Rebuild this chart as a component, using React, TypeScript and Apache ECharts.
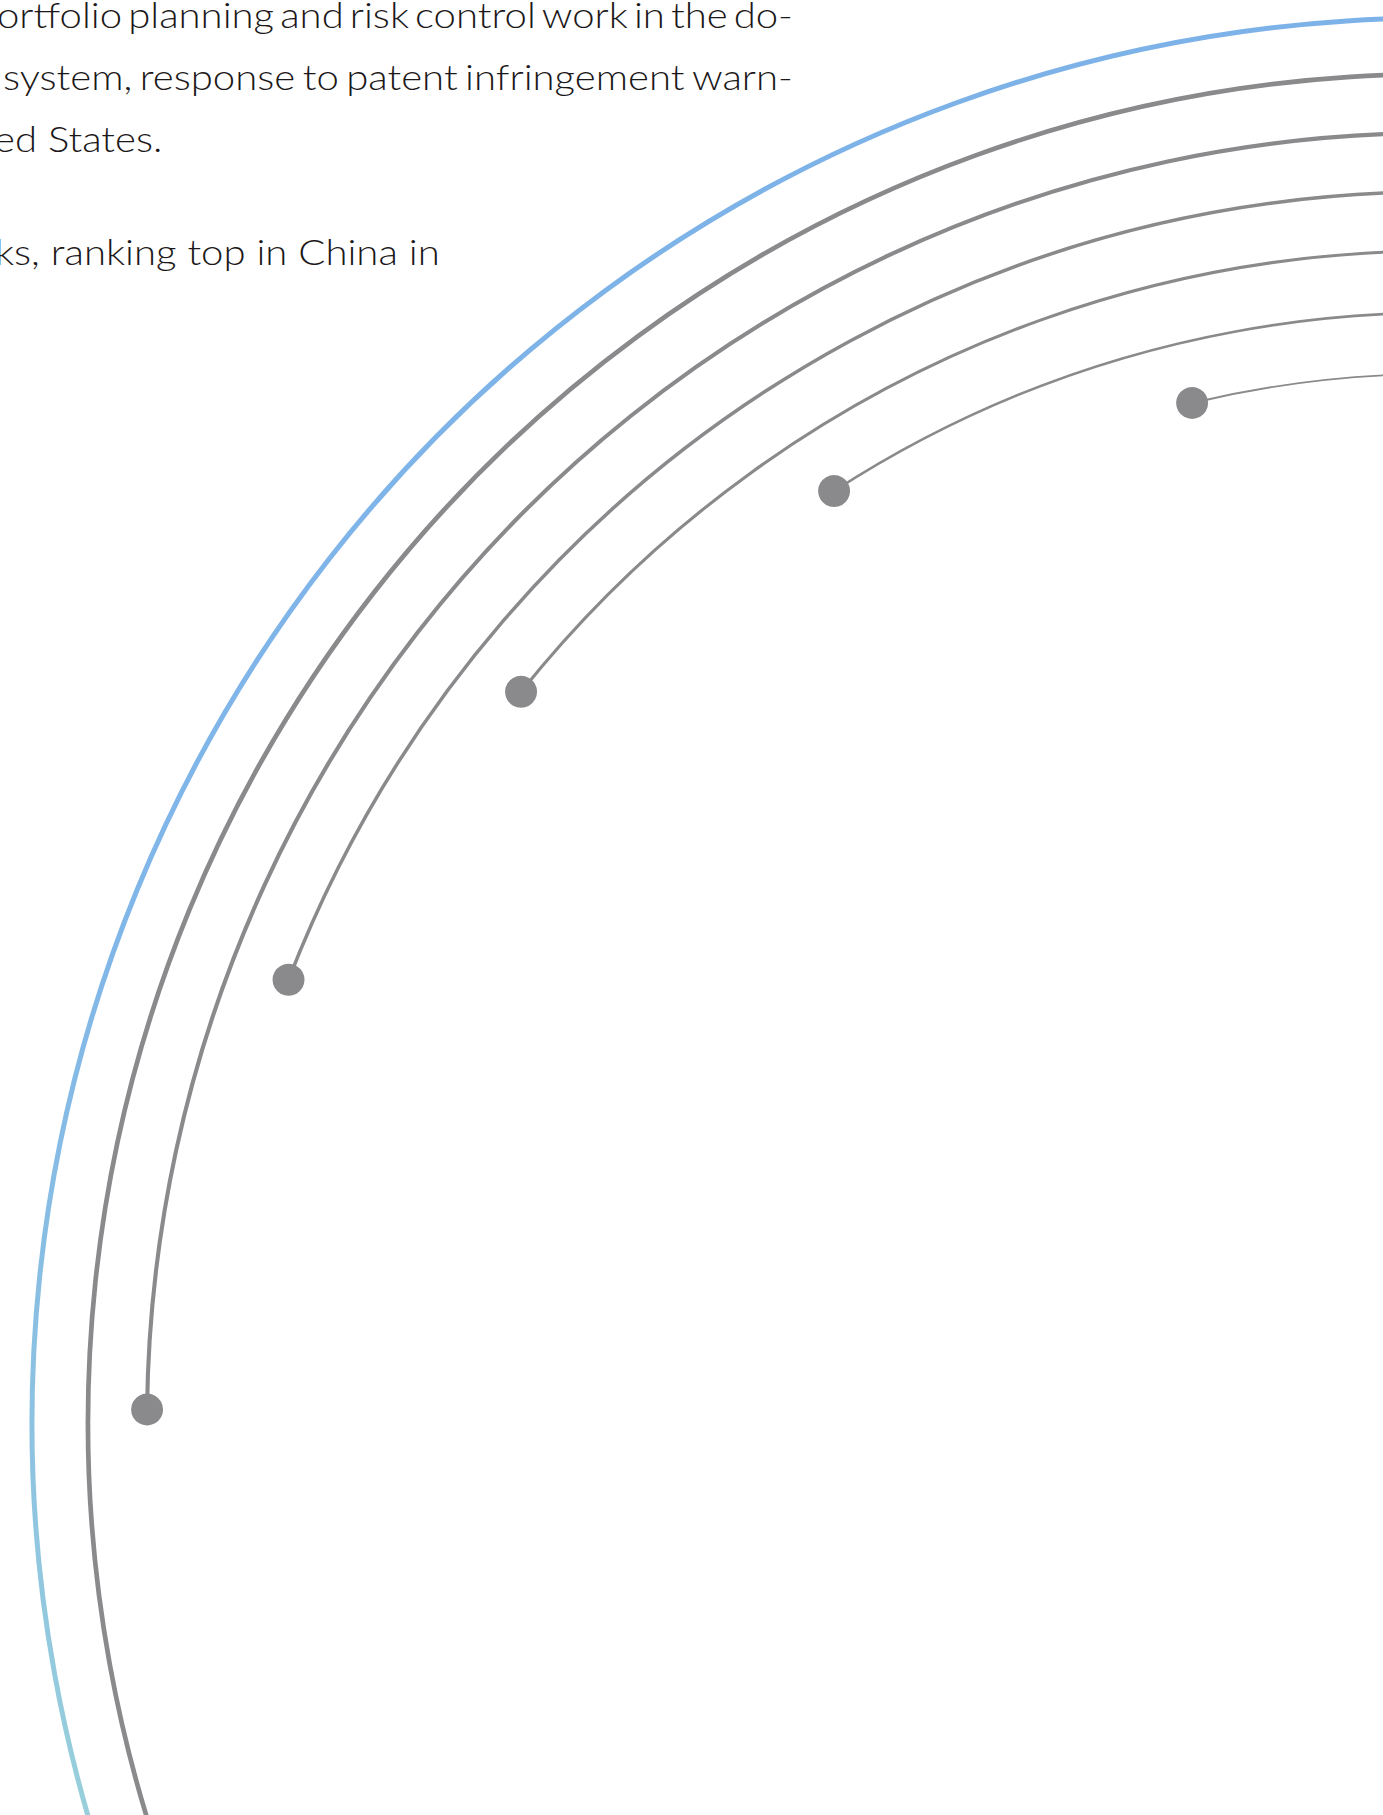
import React, { useEffect, useRef } from 'react';
import * as echarts from 'echarts';

// ---------- data ----------
// Text lines of the (cropped) paragraph
const textLines: string[] = [
  'ortfolio planning and risk control work in the do-',
  'system, response to patent infringement warn-',
  'ed States.',
  'ks, ranking top in China in',
];
const textJustified: boolean[] = [true, true, false, false];

// Concentric rings: radius (px from the common centre) and angular extent
// (degrees, counter-clockwise from east)
const ringNames: string[] = ['blue', 'g1', 'g2', 'g3', 'g4', 'g5', 'g6'];
const ringRadius: number[] = [1405, 1349, 1290, 1231, 1172, 1110, 1049];
const ringFrom: number[] = [78, 78, 78, 78, 78, 78, 78];
const ringTo: number[] = [206, 206, 179.4, 158.9, 141.4, 122.9, 103.5];

// Dots that terminate the inner rings: [radius, angle]
const dotRadius: number[] = [1290, 1231, 1172, 1110, 1049];
const dotAngle: number[] = [179.4, 158.9, 141.4, 122.9, 103.5];

// ---------- layout / style ----------
const W = 1383;
const H = 1815;
const CENTER: [number, number] = [1437, 1423];
const MAX_R = 1405;
const RING_WIDTH = [5, 4.7, 4.1, 3.5, 3.1, 2.6, 1.9];
const GRAY = '#8a8a8c';
const TEXT_COLOR = '#1c1819';
const FONT_SIZE = 35;
const FONT_WEIGHT = 300;
const FONT_FAMILY = 'Lato, "Noto Sans", sans-serif';
const LINE_LEFT = [-3, 3, -6, -5];
const LINE_RIGHT = [793, 793, 150, 440];
const LINE_BASELINE = [28, 90, 152, 265];
const BASELINE_TO_MIDDLE = 13;

function buildTextElements(): any[] {
  const canvas = document.createElement('canvas');
  const ctx = canvas.getContext('2d') as CanvasRenderingContext2D;
  ctx.font = `${FONT_WEIGHT} ${FONT_SIZE}px ${FONT_FAMILY}`;
  // horizontal scale derived from the last (non-justified) line
  const ref = 3;
  const sx = (LINE_RIGHT[ref] - LINE_LEFT[ref]) / ctx.measureText(textLines[ref]).width;
  const els: any[] = [];
  const mk = (text: string, x: number, i: number) => ({
    type: 'text',
    x,
    y: LINE_BASELINE[i] - BASELINE_TO_MIDDLE,
    scaleX: sx,
    silent: true,
    style: {
      text,
      fill: TEXT_COLOR,
      fontSize: FONT_SIZE,
      fontWeight: FONT_WEIGHT,
      fontFamily: FONT_FAMILY,
      align: 'left',
      verticalAlign: 'middle',
    },
  });
  textLines.forEach((line, i) => {
    if (textJustified[i]) {
      const words = line.split(' ');
      const widths = words.map((w) => ctx.measureText(w).width * sx);
      const total = widths.reduce((a, b) => a + b, 0);
      const gap = (LINE_RIGHT[i] - LINE_LEFT[i] - total) / (words.length - 1);
      let x = LINE_LEFT[i];
      words.forEach((w, k) => {
        els.push(mk(w, x, i));
        x += widths[k] + gap;
      });
    } else {
      els.push(mk(line, LINE_LEFT[i], i));
    }
  });
  return els;
}

export default function App() {
  const ref = useRef<HTMLDivElement>(null);
  useEffect(() => {
    document.body.style.margin = '0';
    document.body.style.overflow = 'hidden';
    if (!ref.current) return;
    const chart = echarts.init(ref.current, null, { renderer: 'svg' });

    const blue = new echarts.graphic.LinearGradient(
      0, 0, 0, H,
      [
        { offset: 0, color: '#7db2e8' },
        { offset: 0.5, color: '#80b6e8' },
        { offset: 0.75, color: '#8bc0e2' },
        { offset: 1, color: '#98cfdb' },
      ],
      true
    );

    chart.setOption({
      animation: false,
      backgroundColor: '#ffffff',
      polar: { center: CENTER, radius: MAX_R },
      radiusAxis: { type: 'value', min: 0, max: MAX_R, show: false },
      angleAxis: {
        type: 'value', min: 0, max: 360, startAngle: 0, clockwise: false, show: false,
      },
      graphic: { elements: buildTextElements() },
      series: [
        {
          type: 'custom',
          name: 'rings',
          coordinateSystem: 'polar',
          silent: true,
          clip: false,
          data: ringRadius.map((r, i) => ({ name: ringNames[i], value: [r, ringFrom[i], ringTo[i]] })),
          renderItem: (params: any, api: any) => {
            const r = api.value(0);
            const a0 = api.value(1);
            const a1 = api.value(2);
            const c = api.coord([0, 0]);
            const p0 = api.coord([r, a0]);
            const p1 = api.coord([r, a1]);
            const rp = Math.hypot(p0[0] - c[0], p0[1] - c[1]);
            const s0 = Math.atan2(p0[1] - c[1], p0[0] - c[0]);
            const s1 = Math.atan2(p1[1] - c[1], p1[0] - c[0]);
            let start = s1;
            let end = s0;
            while (end < start) end += Math.PI * 2;
            const i = params.dataIndex;
            return {
              type: 'arc',
              shape: { cx: c[0], cy: c[1], r: rp, startAngle: start, endAngle: end, clockwise: true },
              style: {
                stroke: i === 0 ? blue : GRAY,
                lineWidth: RING_WIDTH[i],
                fill: 'none',
                lineCap: 'butt',
              },
            };
          },
          z: 1,
        },
        {
          type: 'scatter',
          name: 'dots',
          coordinateSystem: 'polar',
          silent: true,
          symbol: 'circle',
          symbolSize: 32,
          itemStyle: { color: GRAY, opacity: 1 },
          data: dotRadius.map((r, i) => [r, dotAngle[i]]),
          z: 2,
        },
      ],
    });
    return () => chart.dispose();
  }, []);
  return <div ref={ref} style={{ width: W, height: H }} />;
}
